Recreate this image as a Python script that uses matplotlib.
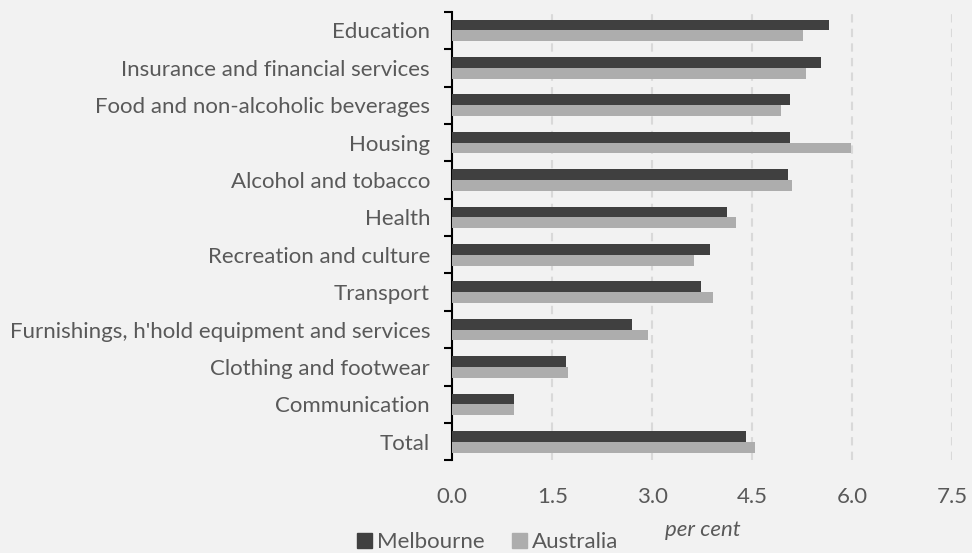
import matplotlib
matplotlib.use("Agg")
import matplotlib.pyplot as plt
import numpy as np
from matplotlib.patches import Patch

categories = ["Education", "Insurance and financial services", "Food and non-alcoholic beverages",
              "Housing", "Alcohol and tobacco", "Health", "Recreation and culture", "Transport",
              "Furnishings, h'hold equipment and services", "Clothing and footwear",
              "Communication", "Total"]
melbourne = [5.65, 5.53, 5.06, 5.06, 5.03, 4.12, 3.86, 3.73, 2.69, 1.71, 0.92, 4.41]
australia = [5.26, 5.31, 4.93, 5.98, 5.09, 4.25, 3.63, 3.91, 2.93, 1.73, 0.93, 4.54]
xticks = [0.0, 1.5, 3.0, 4.5, 6.0, 7.5]
xtick_labels = ["0.0", "1.5", "3.0", "4.5", "6.0", "7.5"]

plt.rcParams['font.family'] = ['Lato', 'DejaVu Sans']
TXT = "#595959"
BG = "#f2f2f2"
DARK = "#404040"
LIGHT = "#adadad"
FS = 16

fig = plt.figure(figsize=(9.72, 5.53), dpi=100, facecolor=BG)
ax = fig.add_axes([0.4653, 0.1673, 0.9798 - 0.4653, 0.9788 - 0.1673])
ax.set_facecolor(BG)

y = np.arange(len(categories))
h = 0.29
ax.barh(y - h / 2, melbourne, height=h, color=DARK, zorder=3)
ax.barh(y + h / 2, australia, height=h, color=LIGHT, zorder=3)

ax.set_xlim(0, 7.5)
ax.set_ylim(len(categories) - 0.5, -0.5)

for xv in xticks[1:]:
    ax.axvline(xv, color="#d9d9d9", lw=1.5, dashes=(4, 3), zorder=1)

ax.set_xticks(xticks)
ax.set_xticklabels(xtick_labels, color=TXT, fontsize=FS)
ax.tick_params(axis='x', length=0, pad=19)

ax.set_yticks(np.arange(len(categories) + 1) - 0.5)
ax.set_yticklabels([])
ax.tick_params(axis='y', which='major', length=5.5, width=1.5, color='black', direction='out')
ax.set_yticks(y, minor=True)
ax.set_yticklabels(categories, minor=True, color=TXT, fontsize=FS)
ax.tick_params(axis='y', which='minor', length=0, pad=16)

for s in ['top', 'right', 'bottom']:
    ax.spines[s].set_visible(False)
ax.spines['left'].set_linewidth(1.5)
ax.spines['left'].set_color('black')

fig.text(703 / 972, 1 - 530 / 553, "per cent", style='italic', color=TXT, fontsize=FS,
         ha='center', va='center')

handles = [Patch(color=DARK, label="Melbourne"), Patch(color=LIGHT, label="Australia")]
leg = fig.legend(handles=handles, loc='center left', bbox_to_anchor=(357 / 972, 1 - 542 / 553),
                 ncol=2, frameon=False, fontsize=FS, handlelength=0.68, handleheight=0.68,
                 handletextpad=0.2, columnspacing=1.25, borderpad=0, borderaxespad=0)
for t in leg.get_texts():
    t.set_color(TXT)

fig.savefig("out.png", dpi=100, facecolor=BG)
